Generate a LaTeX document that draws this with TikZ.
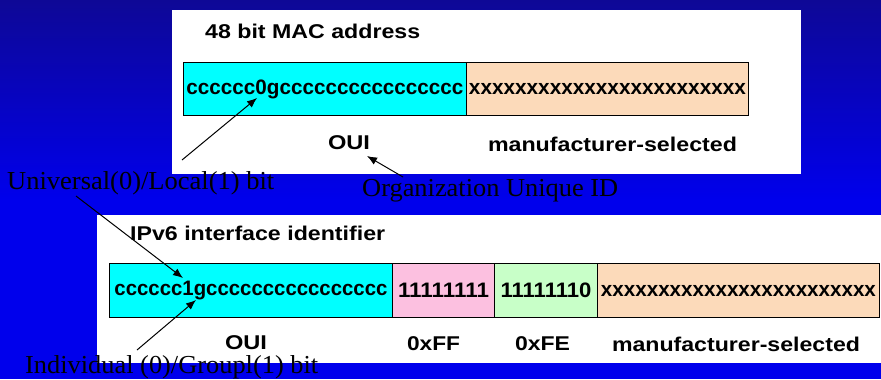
\documentclass[tikz,border=0pt]{standalone}
\usepackage{fontspec}
\usepackage{graphicx}
\setmainfont{Liberation Serif}
\newfontfamily\arialf{Liberation Sans}
\usetikzlibrary{arrows.meta}
\definecolor{bgtop}{RGB}{14,8,150}
\definecolor{bgbot}{RGB}{0,0,236}
\definecolor{cyanf}{RGB}{0,255,255}
\definecolor{peachf}{RGB}{252,218,186}
\definecolor{pinkf}{RGB}{252,192,224}
\definecolor{greenf}{RGB}{200,255,200}
\newcommand{\fitw}[2]{\resizebox{#1}{\height}{#2}}
\begin{document}
\begin{tikzpicture}[x=1bp,y=-1bp,
  field/.style={draw=black, line width=1bp, inner sep=0pt, anchor=north west,
    font=\arialf\bfseries\fontsize{21}{21}\selectfont},
  sanslab/.style={inner sep=0pt, font=\arialf\bfseries\fontsize{20}{20}\selectfont},
  serlab/.style={inner sep=0pt, anchor=base west, font=\fontsize{26}{26}\selectfont},
  ptr/.style={-{Latex[length=10bp,width=8bp]}, line width=1bp}]
\useasboundingbox (0,0) rectangle (881,379);
% background
\fill[bgbot] (0,0) rectangle (881,379);
\shade[top color=bgtop, bottom color=bgbot] (0,0) rectangle (881,200);
% panels
\fill[white] (172,10) rectangle (801,174);
\fill[white] (97,215) rectangle (881,363);
% panel 1
\node[sanslab, anchor=west] (t1) at (205,31) {\fitw{215bp}{48 bit MAC address}};
\node[field, fill=cyanf, minimum width=283bp, minimum height=53bp] (oui1) at (183,62)
  {\fitw{277bp}{cccccc0gcccccccccccccccc}};
\node[field, fill=peachf, minimum width=282bp, minimum height=53bp] (man1) at (466,62)
  {\fitw{277bp}{xxxxxxxxxxxxxxxxxxxxxxxx}};
\node[sanslab] (ouil1) at (349,143) {\fitw{42bp}{OUI}};
\node[sanslab] (manl1) at (612.5,144) {\fitw{249bp}{manufacturer-selected}};
% panel 2
\node[sanslab, anchor=west] (t2) at (130,233) {\fitw{255bp}{IPv6 interface identifier}};
\node[field, fill=cyanf, minimum width=283bp, minimum height=54bp] (oui2) at (109,263)
  {\fitw{273bp}{cccccc1gcccccccccccccccc}};
\node[field, fill=pinkf, minimum width=102bp, minimum height=54bp] (ff) at (392,263)
  {\fitw{91bp}{11111111}};
\node[field, fill=greenf, minimum width=103bp, minimum height=54bp] (fe) at (494,263)
  {\fitw{91bp}{11111110}};
\node[field, fill=peachf, minimum width=282bp, minimum height=54bp] (man2) at (597,263)
  {\fitw{275bp}{xxxxxxxxxxxxxxxxxxxxxxxx}};
\node[sanslab] (ouil2) at (246,343) {\fitw{42bp}{OUI}};
\node[sanslab] (ffl) at (433.5,344) {\fitw{53bp}{0xFF}};
\node[sanslab] (fel) at (542.5,344) {\fitw{55bp}{0xFE}};
\node[sanslab] (manl2) at (736,344) {\fitw{248bp}{manufacturer-selected}};
% serif labels
\node[serlab] (ul) at (7,189) {\fitw{267bp}{Universal(0)/Local(1) bit}};
\node[serlab] (org) at (362,196) {\fitw{256bp}{Organization Unique ID}};
\node[serlab] (ig) at (25,373) {\fitw{293bp}{Individual (0)/Groupl(1) bit}};
% arrow end points
\coordinate (ulA) at (182,160);
\coordinate (ulAt) at (257,98);
\coordinate (ulB) at (76,196);
\coordinate (ulBt) at (183,278);
\coordinate (orgA) at (403,177);
\coordinate (orgAt) at (367,156);
\coordinate (igA) at (137,350);
\coordinate (igAt) at (196,300);
\draw[ptr] (ulA) -- (ulAt);
\draw[ptr] (ulB) -- (ulBt);
\draw[ptr] (orgA) -- (orgAt);
\draw[ptr] (igA) -- (igAt);
\end{tikzpicture}
\end{document}
